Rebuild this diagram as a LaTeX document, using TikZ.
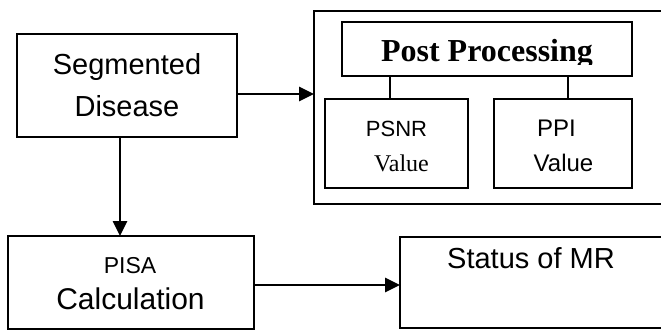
\documentclass[tikz,border=0pt]{standalone}
\usepackage{fontspec}
\setmainfont{Liberation Sans}
\newfontfamily\serifface{Liberation Serif}
\usetikzlibrary{arrows.meta}
\begin{document}
\begin{tikzpicture}[x=1pt,y=-1pt,
  box/.style={draw, line width=2pt, inner sep=0pt, outer sep=0pt},
  arr/.style={line width=2.6pt, -{Triangle[length=15pt,width=14pt]}},
  conn/.style={line width=2pt},
  txt/.style={anchor=base, inner sep=0pt},
  fs/.style={font=\fontsize{#1}{#1}\selectfont}
]
\useasboundingbox (0,0) rectangle (661,331);
\clip (0,0) rectangle (661,331);
% boxes
\node[box, minimum width=220pt, minimum height=103pt] (seg) at (127,85.5) {};
\node[box, minimum width=246pt, minimum height=93pt] (pisa) at (131,282.5) {};
\node[box, minimum width=400pt, minimum height=193pt, anchor=north west] (outer) at (314,11) {};
\node[box, minimum width=290pt, minimum height=54pt] (post) at (487,49) {};
\node[box, minimum width=143pt, minimum height=89pt] (psnr) at (396.5,143.5) {};
\node[box, minimum width=138pt, minimum height=89pt] (ppi) at (563,143.5) {};
\node[box, minimum width=300pt, minimum height=91pt, anchor=north west] (status) at (400,237) {};
% texts
\node[txt, fs=29] (t1) at (127,75) {Segmented};
\node[txt, fs=29] (t2) at (127,117) {Disease};
\node[txt, fs=23] (t3) at (130,273) {PISA};
\node[txt, fs=30] (t4) at (130.5,309) {Calculation};
\node[txt, fs=29] (t5) at (531,268) {Status of MR};
\begin{scope}
\clip (342,22) rectangle (632,64.5);
\node[txt, font=\serifface\bfseries\fontsize{32}{32}\selectfont] (t6) at (487,62) {Post Processing};
\end{scope}
\node[txt, fs=22] (t7) at (396.5,137) {PSNR};
\node[txt, font=\serifface\fontsize{24}{24}\selectfont] (t8) at (401.5,172) {Value};
\node[txt, fs=24] (t9) at (556.5,137) {PPI};
\node[txt, fs=24] (t10) at (563.5,172) {Value};
% connectors
\draw[arr] ([yshift=-8.5pt]seg.east) -- ([yshift=-8.5pt]seg.east -| outer.west);
\draw[arr] ([xshift=-7pt]seg.south) -- ([xshift=-7pt]seg.south |- pisa.north);
\draw[arr] ([yshift=-2.5pt]pisa.east) -- ([yshift=-2.5pt]pisa.east -| status.west);
\draw[conn] ([xshift=-97pt]post.south) -- ([xshift=-97pt]post.south |- psnr.north);
\draw[conn] ([xshift=81pt]post.south) -- ([xshift=81pt]post.south |- ppi.north);
\end{tikzpicture}
\end{document}
